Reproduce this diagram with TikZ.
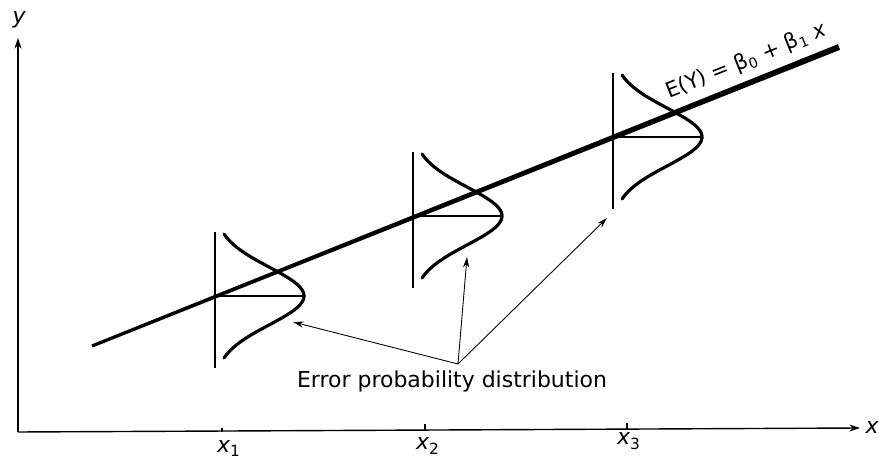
\documentclass[tikz,border=0pt]{standalone}
\usepackage{fontspec}
\setmainfont{DejaVu Sans}
\usetikzlibrary{arrows.meta}

\begin{document}
\begin{tikzpicture}[x=0.02cm, y=-0.02cm, font=\fontsize{12.5}{15}\selectfont,
  bell/.style={line width=1.8pt, line cap=round},
  stem/.style={line width=0.6pt},
  pointer/.style={line width=0.5pt, -{Stealth[length=6pt,width=3.5pt]}}]
\useasboundingbox (0,0) rectangle (879,465);
%%%%%%%%% axes
\coordinate (origin) at (18,432);
\coordinate (xend) at (860,428);
\coordinate (yend) at (18,38);
\draw[line width=0.8pt, -{Stealth[length=6pt,width=4pt]}] (origin) -- (yend);
\draw[line width=0.8pt, -{Stealth[length=6pt,width=4pt]}] (origin) -- (xend);
\node (ylab) at (19,20) {\itshape y};
\node (xlab) at (872,427) {\itshape x};
%%%%%%%%% ticks and labels
\draw[stem] (222,432) -- (222,428);
\draw[stem] (425,430) -- (425,424);
\draw[stem] (627,429) -- (627,423);
\node[anchor=base] (x1lab) at (229,453) {\itshape x\textsubscript{\upshape 1}};
\node[anchor=base] (x2lab) at (428,450) {\itshape x\textsubscript{\upshape 2}};
\node[anchor=base] (x3lab) at (629,445) {\itshape x\textsubscript{\upshape 3}};
%%%%%%%%% error distributions
\foreach \n/\xv/\m in {1/215/296, 2/413/216, 3/613/137} {
  \draw[stem] (\xv,\m-64) -- (\xv,\m+72);
  \draw[line width=1.4pt] (\xv,\m) -- (\xv+89,\m);
  \draw[bell] plot[domain=-62:62, samples=50, smooth]
     ({\xv+89*exp(-0.5*(\x/29)^2)}, {\m+\x});
}
%%%%%%%%% regression line
\coordinate (reg1) at (92,346);
\coordinate (reg2) at (839,47);
\fill (92.6,347.5) -- (840.1,49.8) -- (837.9,44.2) -- (91.4,344.5) -- cycle;
\path (reg1) -- (reg2) node[pos=0.886, sloped, above=4pt, inner sep=2pt,
   font=\fontsize{12}{14}\selectfont] (eqlab)
   {E(Y) = β\textsubscript{0} + β\textsubscript{1} {\itshape x}};
%%%%%%%%% pointers
\node[anchor=base] (errlab) at (452,388) {Error probability distribution};
\coordinate (hub) at (458,364);
\coordinate (tip1) at (293,322);
\coordinate (tip2) at (467,257);
\coordinate (tip3) at (607,218);
\foreach \t in {tip1,tip2,tip3}
  \draw[pointer] (hub) -- (\t);
\end{tikzpicture}
\end{document}
